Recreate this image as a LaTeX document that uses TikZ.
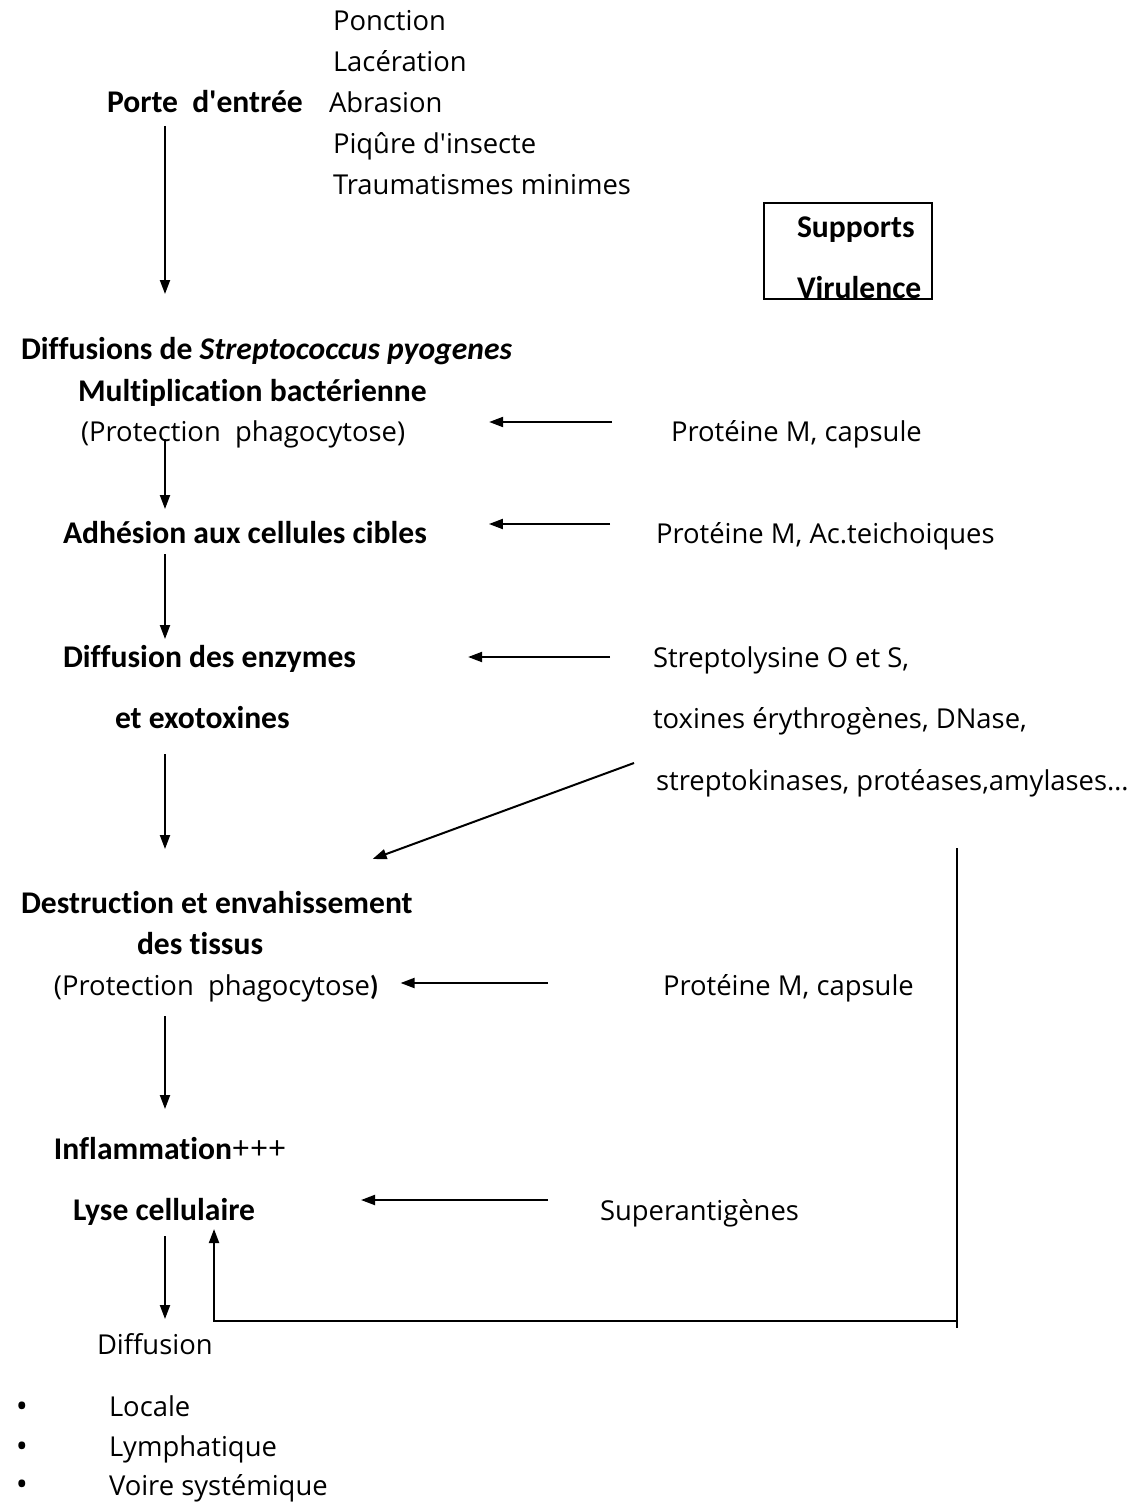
\documentclass[tikz,border=0pt]{standalone}
\usepackage{fontspec}
\setmainfont{Open Sans}
\newfontfamily\carlito{Carlito}[Ligatures=NoCommon]
\usetikzlibrary{arrows.meta}

\begin{document}
\begin{tikzpicture}[x=0.5pt,y=-0.5pt,line width=1pt,
    txt/.style={anchor=base west,inner sep=0pt,text height=11pt,text depth=3.5pt,font=\fontsize{13.7}{16}\selectfont},
    bld/.style={txt,font=\fontsize{15.8}{18}\selectfont\carlito\bfseries},
    dot/.style={anchor=base,inner sep=0pt,text height=8pt,text depth=0pt,font=\fontsize{16}{18}\selectfont},
    arr/.style={-{Triangle[length=7pt,width=5pt]}}]
  \useasboundingbox (0,0) rectangle (1143,1503);
  % porte d'entree
  \node[txt] (ponction) at (332,31) {Ponction};
  \node[txt] (laceration) at (332,72) {Lacération};
  \node[bld] (porte) at (106,113) {Porte\ \ d\textquotesingle entrée};
  \node[txt] (abrasion) at (328,113) {Abrasion};
  \node[txt] (piqure) at (332,154) {Piqûre d\textquotesingle insecte};
  \node[txt] (trauma) at (332,195) {Traumatismes minimes};
  % supports de virulence
  \node[draw,minimum width=84pt,minimum height=48pt,inner sep=0pt] (vbox) at (848,251) {};
  \node[bld] (supports) at (796,237) {Supports};
  \node[bld] (virulence) at (796,298) {Virulence};
  % chaine principale
  \node[bld] (diffs) at (20,359) {Diffusions de \textit{Streptococcus pyogenes}};
  \node[bld] (multi) at (77,401) {Multiplication bactérienne};
  \node[txt] (prot1) at (80,441) {(Protection\ \ phagocytose)};
  \node[txt] (protM1) at (670,441) {Protéine M, capsule};
  \node[bld] (adhesion) at (62,543) {Adhésion aux cellules cibles};
  \node[txt] (protM2) at (655,543) {Protéine M, Ac.teichoiques};
  \node[bld] (enzymes) at (62,667) {Diffusion des enzymes};
  \node[txt] (strepto) at (652,667) {Streptolysine O et S,};
  \node[bld] (exotox) at (114,728) {et exotoxines};
  \node[txt] (toxines) at (652,728) {toxines érythrogènes, DNase,};
  \node[txt] (kinases) at (655,790) {streptokinases, protéases,amylases…};
  \node[bld] (destr) at (20,913) {Destruction et envahissement};
  \node[bld] (tissus) at (136,954) {des tissus};
  \node[txt] (prot2) at (53,995) {(Protection\ \ phagocytose{\carlito\bfseries)}};
  \node[txt] (protM3) at (662,995) {Protéine M, capsule};
  \node[bld] (infl) at (53,1159) {Inflammation{\normalfont+++}};
  \node[bld] (lyse) at (72,1220) {Lyse cellulaire};
  \node[txt] (superag) at (599,1220) {Superantigènes};
  \node[txt] (diffusion) at (96,1354) {Diffusion};
  % formes de diffusion
  \node[dot] (dot1) at (22,1417) {\textbullet};
  \node[txt] (locale) at (108,1416) {Locale};
  \node[dot] (dot2) at (22,1457) {\textbullet};
  \node[txt] (lymph) at (108,1456) {Lymphatique};
  \node[dot] (dot3) at (22,1495) {\textbullet};
  \node[txt] (voire) at (108,1495) {Voire systémique};

  \coordinate (spine) at (165,0);
  \draw[arr,shorten <=2.5pt,shorten >=21pt] (porte.south -| spine) -- (diffs.north -| spine);
  \draw[arr,shorten <=-5pt,shorten >=5.5pt] (prot1.south -| spine) -- (adhesion.north -| spine);
  \draw[arr,shorten <=1.5pt,shorten >=2.5pt] (adhesion.south -| spine) -- (enzymes.north -| spine);
  \draw[arr,shorten <=9pt,shorten >=20.5pt] (exotox.south -| spine) -- (destr.north -| spine);
  \draw[arr,shorten <=6.5pt,shorten >=13.5pt] (prot2.south -| spine) -- (infl.north -| spine);
  \draw[arr,shorten <=4pt,shorten >=6pt] (lyse.south -| spine) -- (diffusion.north -| spine);

  \draw[arr,shorten <=29pt,shorten >=41.5pt] ([yshift=9.5pt]protM1.base west) -- ([yshift=9.5pt]prot1.base east);
  \draw[arr,shorten <=22.5pt,shorten >=30.5pt] ([yshift=9.5pt]protM2.base west) -- ([yshift=9.5pt]adhesion.base east);
  \draw[arr,shorten <=21pt,shorten >=55.5pt] ([yshift=5pt]strepto.base west) -- ([yshift=5pt]enzymes.base east);
  \draw[arr,shorten <=57pt,shorten >=10.5pt] ([yshift=6pt]protM3.base west) -- ([yshift=6pt]prot2.base east);
  \draw[arr,shorten <=25.5pt,shorten >=52.5pt] ([yshift=10pt]superag.base west) -- ([yshift=10pt]lyse.base east);

  \draw[arr] ([xshift=-10.5pt,yshift=13.5pt]kinases.base west) -- ([xshift=-20.5pt,yshift=15.5pt]destr.north east);

  \coordinate (fbtop) at (957,848);
  \coordinate (fbbot) at (957,1328);
  \coordinate (fbturn) at (957,1321);
  \draw (fbtop) -- (fbbot);
  \draw[arr] (fbturn) -| ([xshift=-21pt,yshift=-0.5pt]lyse.south east);
\end{tikzpicture}
\end{document}
